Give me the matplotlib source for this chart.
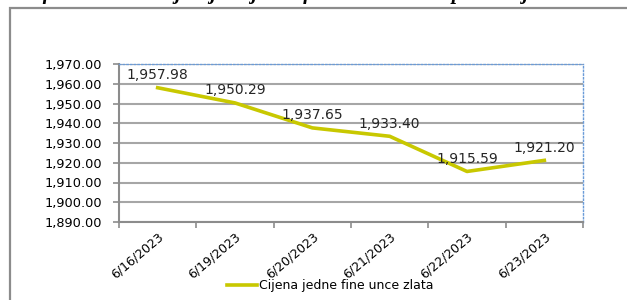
import matplotlib
matplotlib.use("Agg")
import matplotlib.pyplot as plt
from matplotlib.patches import Rectangle
from matplotlib.ticker import FuncFormatter, MultipleLocator

dates = ["6/16/2023", "6/19/2023", "6/20/2023", "6/21/2023", "6/22/2023", "6/23/2023"]
price = [1957.98, 1950.29, 1937.65, 1933.40, 1915.59, 1921.20]
series_name = "Cijena jedne fine unce zlata"
title = "Grafikon 4: Kretanje cijene jedne fine unce zlata u protekloj sedmici"

LINE = "#C8C800"
GRID = "#A6A6A6"

plt.rcParams.update({"font.family": "DejaVu Sans", "font.size": 9})

fig = plt.figure(figsize=(6.27, 3.0), dpi=100)
W, H = 627, 300
ax = fig.add_axes([119 / W, 1 - 222 / H, (583 - 119) / W, (222 - 64) / H])

# outer chart frame (runs off the right / bottom of the crop)
fig.patches.append(Rectangle((10 / W, -0.2), 1.2, 1 - 8 / H + 0.2,
                             transform=fig.transFigure, fill=False,
                             edgecolor="#8C8C8C", lw=1.6, clip_on=False))
# title, cut off at the top edge as in the source crop (only descenders show)
fig.text(0.015, 1.0 + 0.5 / H, title, fontsize=15, fontweight="bold", style="italic",
         family="Liberation Serif", va="baseline")

x = range(len(dates))
ax.plot(x, price, color=LINE, lw=2.6, solid_joinstyle="round", zorder=3)
for xi, v in zip(x, price):
    ax.annotate(f"{v:,.2f}", (xi, v), xytext=(0, 4), textcoords="offset points",
                ha="center", va="bottom", fontsize=10, color="#262626")

ax.set_xlim(-0.5, len(dates) - 0.5)
ax.set_ylim(1890, 1970)
ax.yaxis.set_major_locator(MultipleLocator(10))
ax.yaxis.set_major_formatter(FuncFormatter(lambda v, _: f"{v:,.2f}"))
ax.grid(axis="y", color=GRID, lw=1.5)
ax.set_axisbelow(True)

ax.set_xticks([i - 0.5 for i in range(len(dates) + 1)])
ax.set_xticklabels([])
ax.set_xticks(list(x), minor=True)
ax.set_xticklabels(dates, minor=True, rotation=40, ha="right", rotation_mode="anchor",
                   fontsize=9)
ax.tick_params(axis="x", which="minor", length=0, pad=6)
ax.tick_params(axis="x", which="major", length=4, color="#8C8C8C", width=1.2)
ax.tick_params(axis="y", length=4, color="#8C8C8C", width=1.2, pad=8, labelsize=9.3)

for s in ("left", "bottom"):
    ax.spines[s].set_color("#8C8C8C")
    ax.spines[s].set_linewidth(1.5)
for s in ("top", "right"):
    ax.spines[s].set_color("#6A9BD8")
    ax.spines[s].set_linestyle(":")
    ax.spines[s].set_linewidth(1.0)

fig.legend([plt.Line2D([], [], color=LINE, lw=2.6)], [series_name],
           loc="center", bbox_to_anchor=(330 / W, 1 - 286 / H), frameon=False,
           fontsize=9, handlelength=2.4, handletextpad=0.2)

fig.savefig("out.png", dpi=100)
